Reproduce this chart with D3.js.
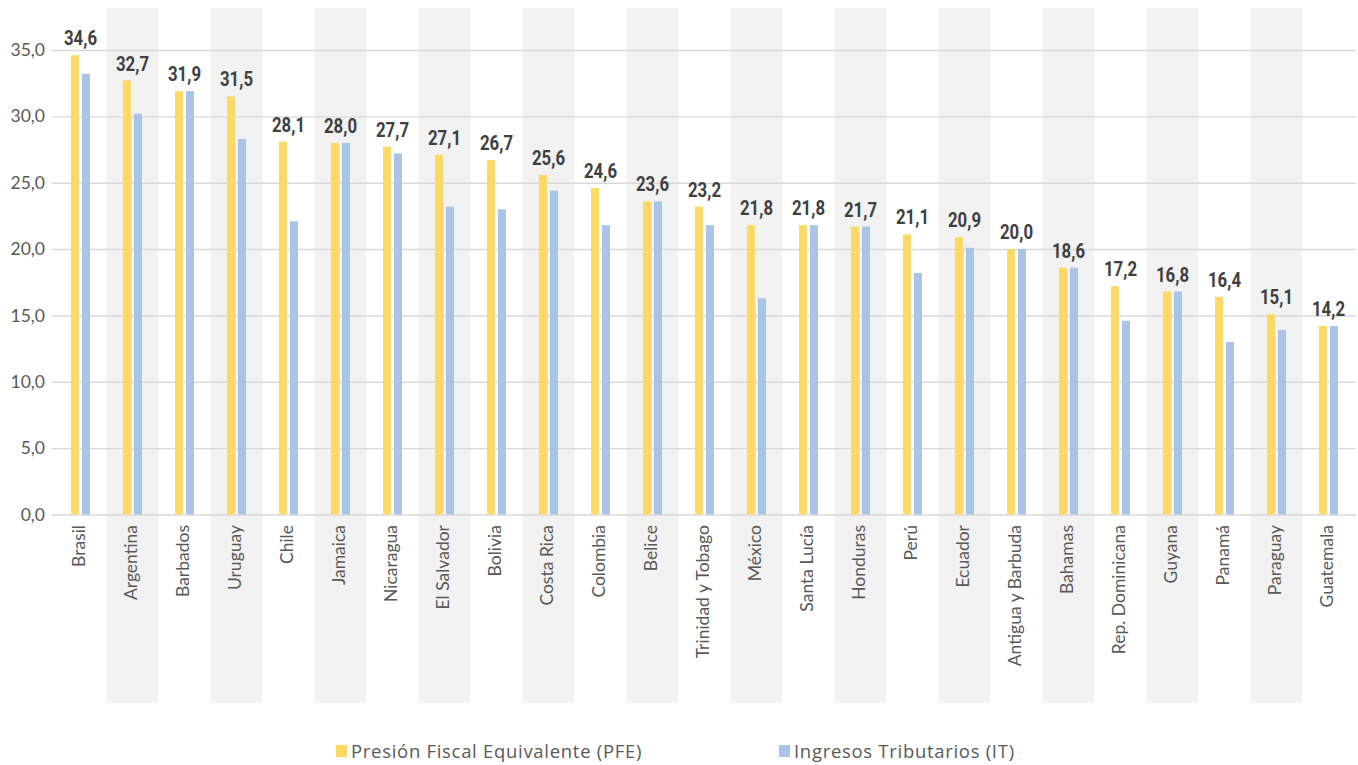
<!DOCTYPE html>
<html>
<head>
<meta charset="utf-8">
<script src="https://cdn.jsdelivr.net/npm/d3@7/dist/d3.min.js"></script>
<style>
  html, body { margin: 0; padding: 0; background: #ffffff; }
  svg { display: block; }
</style>
</head>
<body>
<svg id="chart" width="1358" height="765"></svg>
<script>
// Countries, ordered by equivalent fiscal pressure
const countries = ["Brasil", "Argentina", "Barbados", "Uruguay", "Chile", "Jamaica", "Nicaragua",
  "El Salvador", "Bolivia", "Costa Rica", "Colombia", "Belice", "Trinidad y Tobago", "México",
  "Santa Lucía", "Honduras", "Perú", "Ecuador", "Antigua y Barbuda", "Bahamas",
  "Rep. Dominicana", "Guyana", "Panamá", "Paraguay", "Guatemala"];

// Presión Fiscal Equivalente (PFE), % del PIB
const pfe = [34.6, 32.7, 31.9, 31.5, 28.1, 28.0, 27.7, 27.1, 26.7, 25.6, 24.6, 23.6, 23.2, 21.8,
  21.8, 21.7, 21.1, 20.9, 20.0, 18.6, 17.2, 16.8, 16.4, 15.1, 14.2];

// Ingresos Tributarios (IT), % del PIB
const it = [33.2, 30.2, 31.9, 28.3, 22.1, 28.0, 27.2, 23.2, 23.0, 24.4, 21.8, 23.6, 21.8, 16.3,
  21.8, 21.7, 18.2, 20.1, 20.0, 18.6, 14.6, 16.8, 13.0, 13.9, 14.2];

const seriesNames = ["Presión Fiscal Equivalente (PFE)", "Ingresos Tributarios (IT)"];
const seriesKeys = ["PFE", "IT"];
const yTicks = [0, 5, 10, 15, 20, 25, 30, 35];

const colors = { PFE: "#FFD966", IT: "#A9C4E7" };
const uiFont = "Lato, 'Open Sans', sans-serif";
const legendFont = "'Open Sans', Lato, sans-serif";
const labelFont = "Roboto, 'Liberation Sans', sans-serif";

const svg = d3.select("#chart");

const x = d3.scaleBand().domain(countries).range([54.5, 1354.5]).padding(0);
const y = d3.scaleLinear().domain([0, 35]).range([514.5, 50]);
const inner = d3.scaleBand().domain(seriesKeys).range([-9.5, 9.5]).paddingInner(3 / 11);

const fmt = v => d3.format(".1f")(v).replace(".", ",");
const rows = countries.map((c, i) => ({ country: c, PFE: pfe[i], IT: it[i], i }));

// alternating shaded category bands
svg.append("g")
  .selectAll("rect")
  .data(rows.filter(d => d.i % 2 === 1))
  .join("rect")
  .attr("x", d => x(d.country))
  .attr("y", 8)
  .attr("width", x.bandwidth())
  .attr("height", 695)
  .attr("fill", "#f2f2f2");

// horizontal gridlines and value axis
const yAxis = d3.axisLeft(y)
  .tickValues(yTicks)
  .tickSize(-1304)
  .tickPadding(7)
  .tickFormat(fmt);

const yg = svg.append("g").attr("transform", "translate(52,0)").call(yAxis);
yg.select(".domain").remove();
yg.selectAll(".tick line").attr("stroke", "#d9d9d9").attr("stroke-width", 1.4);
yg.selectAll(".tick text")
  .attr("fill", "#595959")
  .style("font-family", uiFont)
  .style("font-size", "17.5px");

// grouped bars
const groups = svg.append("g")
  .selectAll("g")
  .data(rows)
  .join("g")
  .attr("transform", d => `translate(${x(d.country) + x.bandwidth() / 2},0)`);

groups.selectAll("rect")
  .data(d => seriesKeys.map(k => ({ key: k, value: d[k] })))
  .join("rect")
  .attr("x", d => inner(d.key))
  .attr("width", inner.bandwidth())
  .attr("y", d => y(d.value))
  .attr("height", d => y(0) - y(d.value))
  .attr("fill", d => colors[d.key]);

// PFE value labels above each group (condensed bold)
groups.append("text")
  .attr("transform", d => `translate(0,${y(d.PFE) - 10}) scale(0.84,1)`)
  .attr("text-anchor", "middle")
  .attr("fill", "#404040")
  .style("font-family", labelFont)
  .style("font-weight", "bold")
  .style("font-size", "20px")
  .text(d => fmt(d.PFE));

// rotated country names
svg.append("g")
  .selectAll("text")
  .data(rows)
  .join("text")
  .attr("transform", d => `translate(${x(d.country) + x.bandwidth() / 2 + 4},525) rotate(-90)`)
  .attr("text-anchor", "end")
  .attr("fill", "#595959")
  .style("font-family", uiFont)
  .style("font-size", "17.5px")
  .text(d => d.country);

// legend
const legendX = [336, 779];
const legend = svg.append("g")
  .selectAll("g")
  .data(seriesKeys)
  .join("g")
  .attr("transform", (d, i) => `translate(${legendX[i]},745)`);

legend.append("rect")
  .attr("width", 11)
  .attr("height", 12)
  .attr("fill", d => colors[d]);

legend.append("text")
  .attr("x", 15)
  .attr("y", 13)
  .attr("fill", "#595959")
  .style("font-family", legendFont)
  .style("font-size", "18.5px")
  .style("letter-spacing", "0.7px")
  .text((d, i) => seriesNames[i]);
</script>
</body>
</html>
